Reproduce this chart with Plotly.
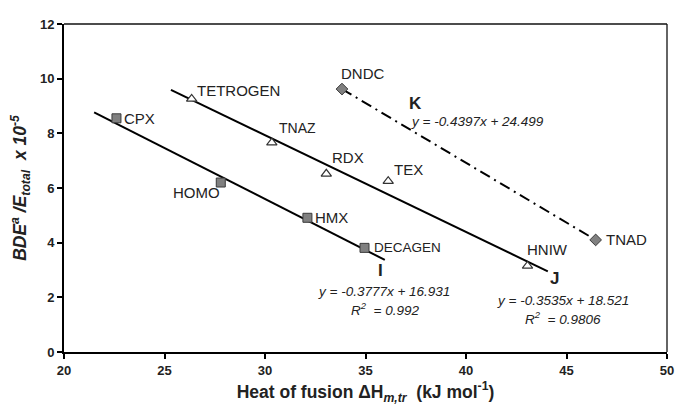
import plotly.graph_objects as go

# ---- data ----
sq_names = ["CPX", "HOMO", "HMX", "DECAGEN"]
sq_x = [22.61, 27.80, 32.11, 34.95]
sq_y = [8.55, 6.20, 4.91, 3.81]

tri_names = ["TETROGEN", "TNAZ", "RDX", "TEX", "HNIW"]
tri_x = [26.35, 30.34, 33.05, 36.13, 43.06]
tri_y = [9.26, 7.66, 6.52, 6.25, 3.15]

dia_names = ["DNDC", "TNAD"]
dia_x = [33.83, 46.45]
dia_y = [9.62, 4.10]

# trend line end points
line_i_x = [21.50, 35.96]
line_i_y = [8.77, 3.37]
line_j_x = [25.32, 44.07]
line_j_y = [9.59, 2.95]

x_ticks = [20, 25, 30, 35, 40, 45, 50]
y_ticks = [0, 2, 4, 6, 8, 10, 12]

FONT = "Liberation Sans, Arial, sans-serif"
TXT = "#222222"

fig = go.Figure()

fig.add_trace(go.Scatter(x=line_i_x, y=line_i_y, mode="lines",
                         line=dict(color="black", width=2), hoverinfo="skip"))
fig.add_trace(go.Scatter(x=line_j_x, y=line_j_y, mode="lines",
                         line=dict(color="black", width=2), hoverinfo="skip"))
fig.add_trace(go.Scatter(x=dia_x, y=dia_y, mode="lines",
                         line=dict(color="black", width=2, dash="11px,5px,2px,5px"),
                         hoverinfo="skip"))

fig.add_trace(go.Scatter(x=sq_x, y=sq_y, mode="markers",
                         marker=dict(symbol="square", size=9, color="#808080",
                                     line=dict(color="#3a3a3a", width=1))))
fig.add_trace(go.Scatter(x=tri_x, y=tri_y, mode="markers",
                         marker=dict(symbol="triangle-up", size=9, color="white",
                                     line=dict(color="#333333", width=1.2))))
fig.add_trace(go.Scatter(x=dia_x, y=dia_y, mode="markers",
                         marker=dict(symbol="diamond", size=9, color="#808080",
                                     line=dict(color="#3a3a3a", width=1))))

ann = []
label_pos = {
    "CPX": ("left", 6, 0, 15),
    "HOMO": ("right", 1, -10, 15),
    "HMX": ("left", 6, 0, 15),
    "DECAGEN": ("left", 7, 0, 13.5),
    "TETROGEN": ("left", 3, 8, 15),
    "TNAZ": ("left", 5, 15, 14),
    "RDX": ("left", 4, 16, 15),
    "TEX": ("left", 4, 12, 15),
    "HNIW": ("center", 20, 16, 15),
    "DNDC": ("center", 21, 16, 15),
    "TNAD": ("left", 8, 0, 15),
}
for names, xs, ys in [(sq_names, sq_x, sq_y), (tri_names, tri_x, tri_y),
                      (dia_names, dia_x, dia_y)]:
    for n, x, y in zip(names, xs, ys):
        xa, xs_, ys_, sz = label_pos[n]
        ann.append(dict(x=x, y=y, xref="x", yref="y", text=n, showarrow=False,
                        xanchor=xa, yanchor="middle", xshift=xs_, yshift=ys_,
                        font=dict(family=FONT, size=sz, color=TXT)))

eq_font = dict(family=FONT, size=13.5, color=TXT)
ann += [
    dict(x=37.47, y=9.10, text="<b>K</b>", font=dict(family=FONT, size=17, color=TXT)),
    dict(x=40.59, y=8.45, text="<i>y = -0.4397x + 24.499</i>", font=eq_font),
    dict(x=35.77, y=2.98, text="<b>I</b>", font=dict(family=FONT, size=17, color=TXT)),
    dict(x=35.92, y=2.23, text="<i>y = -0.3777x + 16.931</i>", font=eq_font),
    dict(x=35.97, y=1.59, text="<i>R<sup>2</sup>  = 0.992</i>", font=eq_font),
    dict(x=44.40, y=2.70, text="<b>J</b>", font=dict(family=FONT, size=17, color=TXT)),
    dict(x=44.84, y=1.88, text="<i>y = -0.3535x + 18.521</i>", font=eq_font),
    dict(x=44.84, y=1.23, text="<i>R<sup>2</sup>  = 0.9806</i>", font=eq_font),
]
for a in ann[-8:]:
    a.update(xref="x", yref="y", showarrow=False, xanchor="center", yanchor="middle")

# thinner top / right frame lines
frame = [
    dict(type="line", xref="paper", yref="paper", x0=0, x1=1, y0=1, y1=1,
         line=dict(color="#111111", width=1.3)),
    dict(type="line", xref="paper", yref="paper", x0=1, x1=1, y0=0, y1=1,
         line=dict(color="#111111", width=1.3)),
]

# page body has an 8px margin, so the figure is 8px smaller than the window
fig.update_layout(
    width=675, height=405,
    margin=dict(l=55.5, r=9, t=8.7, b=60.5),
    paper_bgcolor="white", plot_bgcolor="white",
    showlegend=False,
    annotations=ann,
    shapes=frame,
    font=dict(family=FONT, color=TXT),
    xaxis=dict(range=[20, 50], tickvals=x_ticks, ticktext=[f"<b>{v}</b>" for v in x_ticks],
               showgrid=False, zeroline=False,
               showline=True, linecolor="black", linewidth=2,
               ticks="outside", ticklen=5, tickwidth=1.5, tickcolor="black",
               tickfont=dict(family=FONT, size=13, color=TXT),
               title=dict(text="<b>Heat of fusion ΔH</b><b><i><sub>m,tr</sub></i></b><b>  (kJ mol<sup>-1</sup>)</b>",
                          font=dict(family=FONT, size=17.5, color=TXT), standoff=9)),
    yaxis=dict(range=[0, 12], tickvals=y_ticks, ticktext=[f"<b>{v}</b>" for v in y_ticks],
               showgrid=False, zeroline=False,
               showline=True, linecolor="black", linewidth=2,
               ticks="outside", ticklen=5, tickwidth=1.5, tickcolor="black",
               tickfont=dict(family=FONT, size=13, color=TXT),
               title=dict(text="<b><i>BDE<sup>a</sup> /E<sub>total</sub>  x 10<sup>-5</sup></i></b>",
                          font=dict(family=FONT, size=17.5, color=TXT), standoff=11)),
)

fig.write_html("out.html")
